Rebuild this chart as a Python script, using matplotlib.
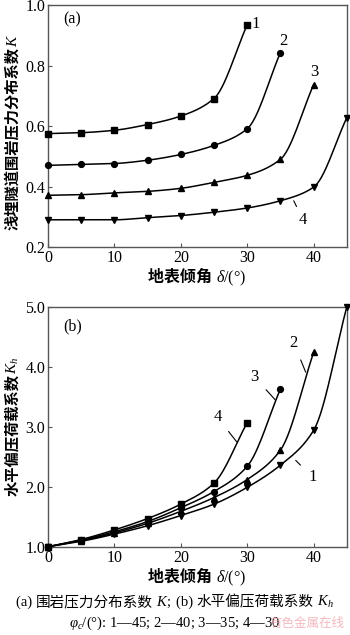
import numpy as np
import matplotlib
matplotlib.use("Agg")
from matplotlib import pyplot as plt

plt.rcParams['font.family'] = ['Liberation Serif', 'Noto Sans CJK SC', 'DejaVu Sans']
plt.rcParams['mathtext.fontset'] = 'custom'
plt.rcParams['mathtext.rm'] = 'Liberation Serif'
plt.rcParams['mathtext.it'] = 'Liberation Serif:italic'
plt.rcParams['axes.unicode_minus'] = False

# surface inclination angle (deg)
delta = [0, 5, 10, 15, 20, 25, 30, 35, 40, 45]

# (a) surrounding rock pressure distribution coefficient K
K_45 = [0.575, 0.578, 0.586, 0.605, 0.633, 0.691, 0.935]
K_40 = [0.470, 0.473, 0.476, 0.487, 0.506, 0.536, 0.591, 0.843]
K_35 = [0.371, 0.373, 0.379, 0.384, 0.394, 0.414, 0.437, 0.490, 0.737]
K_30 = [0.290, 0.290, 0.290, 0.297, 0.304, 0.315, 0.329, 0.353, 0.398, 0.628]

# (b) horizontal bias load coefficient Kh
Kh_30 = [1.00, 1.12, 1.28, 1.47, 1.71, 2.06, 3.07]
Kh_35 = [1.00, 1.11, 1.25, 1.42, 1.65, 1.92, 2.34, 3.63]
Kh_40 = [1.00, 1.10, 1.23, 1.39, 1.59, 1.82, 2.12, 2.61, 4.24]
Kh_45 = [1.00, 1.09, 1.21, 1.35, 1.52, 1.71, 1.99, 2.36, 2.94, 5.00]

spine_col = '#555555'
CJK = dict(family=['Noto Sans CJK SC'], fontweight='bold')
SER = dict(family=['Liberation Serif'])


def smooth(x, y, n=30):
    # monotone cubic hermite (Fritsch-Carlson) so curves pass through every point
    x = np.asarray(x, float)
    y = np.asarray(y, float)
    h = np.diff(x)
    d = np.diff(y) / h
    m = np.zeros_like(y)
    m[0], m[-1] = d[0], d[-1]
    for k in range(1, len(y) - 1):
        if d[k - 1] * d[k] <= 0:
            m[k] = 0
        else:
            w1 = 2 * h[k] + h[k - 1]
            w2 = h[k] + 2 * h[k - 1]
            m[k] = (w1 + w2) / (w1 / d[k - 1] + w2 / d[k])
    xs, ys = [], []
    for k in range(len(x) - 1):
        t = np.linspace(0, 1, n)
        h00 = 2 * t**3 - 3 * t**2 + 1
        h10 = t**3 - 2 * t**2 + t
        h01 = -2 * t**3 + 3 * t**2
        h11 = t**3 - t**2
        xs.append(x[k] + t * h[k])
        ys.append(h00 * y[k] + h10 * h[k] * m[k] + h01 * y[k + 1] + h11 * h[k] * m[k + 1])
    return np.concatenate(xs), np.concatenate(ys)


def draw(ax, y, marker):
    x = delta[:len(y)]
    sx, sy = smooth(x, y)
    ax.plot(sx, sy, color='black', lw=1.1, zorder=2)
    ax.plot(x, y, ls='none', marker=marker, color='black', ms=4.2, zorder=3, clip_on=False)


def style(ax):
    for s in ax.spines.values():
        s.set_color(spine_col)
        s.set_linewidth(1.0)
    ax.tick_params(direction='in', length=3, width=0.8, color=spine_col,
                   labelsize=11.5, pad=2, top=False, right=False)
    ax.set_xlim(0, 45)
    ax.set_xticks([0, 10, 20, 30, 40])


def rich(fig, x, y, pieces, size, vertical=False):
    # lay out mixed CJK / serif pieces one after another, centred at (x, y) px
    r = fig.canvas.get_renderer()
    rot = 90 if vertical else 0
    texts, lens = [], []
    for s, kw in pieces:
        t = fig.text(0, 0, s, fontsize=size, rotation=rot, rotation_mode='anchor',
                     ha='left', va='baseline', transform=None, **kw)
        bb = t.get_window_extent(r)
        texts.append(t)
        lens.append(bb.height if vertical else bb.width)
    pos = (y if vertical else x) - sum(lens) / 2
    for t, L in zip(texts, lens):
        if vertical:
            t.set_position((x, pos))
        else:
            t.set_position((pos, y))
        pos += L


fig = plt.figure(figsize=(3.5, 6.35), dpi=100)
H = 635

# ---- (a)
ax1 = fig.add_axes([0.137, 0.611, 0.854, 0.381])
style(ax1)
draw(ax1, K_45, 's')
draw(ax1, K_40, 'o')
draw(ax1, K_35, '^')
draw(ax1, K_30, 'v')
ax1.set_ylim(0.2, 1.0)
ax1.set_yticks([0.2, 0.4, 0.6, 0.8, 1.0])
ax1.set_yticklabels(['0.2', '0.4', '0.6', '0.8', '1.0'])
ax1.text(0.05, 0.94, '(a)', transform=ax1.transAxes, fontsize=11.5, va='center', ha='left')
ax1.text(31.2, 0.937, '1', fontsize=12, ha='center', va='center')
ax1.text(35.4, 0.881, '2', fontsize=12, ha='center', va='center')
ax1.text(40.1, 0.778, '3', fontsize=12, ha='center', va='center')
ax1.annotate('4', xy=(37.0, 0.353), xytext=(38.4, 0.29), fontsize=12,
             ha='center', va='center',
             arrowprops=dict(arrowstyle='-', color='black', lw=0.8, shrinkA=2, shrinkB=0))

# ---- (b)
ax2 = fig.add_axes([0.137, 0.139, 0.854, 0.378])
style(ax2)
draw(ax2, Kh_30, 's')
draw(ax2, Kh_35, 'o')
draw(ax2, Kh_40, '^')
draw(ax2, Kh_45, 'v')
ax2.set_ylim(1.0, 5.0)
ax2.set_yticks([1, 2, 3, 4, 5])
ax2.set_yticklabels(['1.0', '2.0', '3.0', '4.0', '5.0'])
ax2.text(0.05, 0.92, '(b)', transform=ax2.transAxes, fontsize=11.5, va='center', ha='left')
lab_b = [('4', (28.4, 2.75), (25.5, 3.16)),
         ('3', (34.2, 3.45), (31.1, 3.83)),
         ('2', (38.8, 3.91), (37.0, 4.40)),
         ('1', (37.3, 2.44), (39.8, 2.16))]
for t, p, q in lab_b:
    ax2.annotate(t, xy=p, xytext=q, fontsize=12, ha='center', va='center',
                 arrowprops=dict(arrowstyle='-', color='black', lw=0.8, shrinkA=5, shrinkB=0))

# axis titles
xlab = [('地表倾角 ', CJK), ('$\\delta$/(°)', SER)]
rich(fig, 197, H - 282, xlab, 11.5)
rich(fig, 197, H - 582, xlab, 11.5)
rich(fig, 17, H - 132, [('浅埋隧道围岩压力分布系数', CJK), ('$K$', SER)], 11, vertical=True)
rich(fig, 17, H - 426, [('水平偏压荷载系数', CJK), ('$K_h$', SER)], 11, vertical=True)

# captions
rich(fig, 175, H - 606, [('(a) ', SER), ('围岩压力分布系数', dict(family=['Noto Sans CJK SC'])),
                         (' $K$;  ', SER), ('(b) ', SER),
                         ('水平偏压荷载系数', dict(family=['Noto Sans CJK SC'])), (' $K_h$', SER)], 10.5)
fig.text(0.5, 1 - 627 / 635, '$\\varphi_c$/(°): 1—45; 2—40; 3—35; 4—30',
         ha='center', va='baseline', fontsize=10.5)
fig.text(0.985, 1 - 627 / 635, '有色金属在线', ha='right', va='baseline', fontsize=9,
         family=['Noto Sans CJK SC'], color='#f0a8b0', alpha=0.8)

plt.savefig('out.png', dpi=100)
